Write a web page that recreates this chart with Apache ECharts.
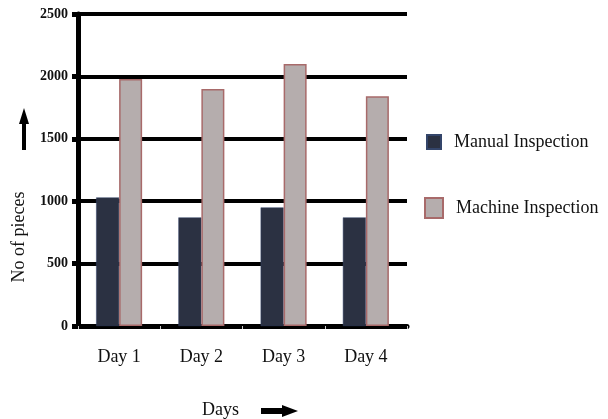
<!DOCTYPE html>
<html>
<head>
<meta charset="utf-8">
<script src="https://cdn.jsdelivr.net/npm/echarts@6/dist/echarts.min.js"></script>
<style>
  html, body { margin: 0; padding: 0; background: #fff; }
  #chart { width: 608px; height: 419px; }
</style>
</head>
<body>
<div id="chart"></div>
<script>
var days = ['Day 1', 'Day 2', 'Day 3', 'Day 4']
var manual = [1030, 870, 950, 870]
var machine = [1980, 1900, 2100, 1840]
var yTicks = [0, 500, 1000, 1500, 2000, 2500]

var serif = 'Liberation Serif, Times New Roman, serif'
var chart = echarts.init(document.getElementById('chart'))

chart.setOption({
  animation: false,
  grid: {
    left: 78,
    right: 201,
    top: 14,
    bottom: 93,
    outerBoundsMode: 'none'
  },
  legend: [
    {
      data: ['Manual Inspection'],
      icon: 'rect',
      left: 421,
      top: 128,
      itemWidth: 14,
      itemHeight: 14,
      textStyle: { fontFamily: serif, fontSize: 18, color: '#111', padding: [0, 0, 4, 8] }
    },
    {
      data: ['Machine Inspection'],
      icon: 'rect',
      left: 419,
      top: 192,
      itemWidth: 18,
      itemHeight: 20,
      textStyle: { fontFamily: serif, fontSize: 18, color: '#111', padding: [0, 0, 0, 8] }
    }
  ],
  xAxis: {
    type: 'category',
    data: days,
    name: 'Days',
    nameLocation: 'middle',
    nameGap: 75,
    nameTextStyle: { fontFamily: serif, fontSize: 18, color: '#111', padding: [0, 44, 0, 0] },
    axisLine: { lineStyle: { color: '#000', width: 5 } },
    axisTick: { show: true, length: 3, lineStyle: { color: '#ccc', width: 1 } },
    axisLabel: { fontFamily: serif, fontSize: 18, color: '#111', margin: 22 }
  },
  yAxis: {
    type: 'value',
    min: yTicks[0],
    max: yTicks[yTicks.length - 1],
    interval: 500,
    name: 'No of pieces',
    nameLocation: 'middle',
    nameGap: 50,
    nameRotate: 90,
    nameTextStyle: { fontFamily: serif, fontSize: 18, color: '#111', padding: [0, 134, 0, 0] },
    axisLine: { show: true, lineStyle: { color: '#000', width: 5 } },
    axisTick: { show: true, length: 6, lineStyle: { color: '#000', width: 5 } },
    axisLabel: {
      fontFamily: serif, fontSize: 14, fontWeight: 'bold', color: '#111', margin: 10,
      formatter: function(v) { return String(v) }
    },
    splitLine: { show: true, lineStyle: { color: '#000', width: 4 } }
  },
  series: [
    {
      name: 'Manual Inspection',
      type: 'bar',
      data: manual,
      barWidth: 23,
      barGap: '0%',
      itemStyle: { color: '#2b3142', borderColor: '#34456a', borderWidth: 0.5 }
    },
    {
      name: 'Machine Inspection',
      type: 'bar',
      data: machine,
      barWidth: 23,
      itemStyle: { color: '#b5adad', borderColor: '#a86a6a', borderWidth: 1.5 }
    }
  ],
  graphic: [
    {
      // up arrow beside the y axis name
      type: 'polygon',
      shape: { points: [[24, 108], [19, 124], [22, 124], [22, 150], [26, 150], [26, 124], [29, 124]] },
      style: { fill: '#000' }
    },
    {
      // right arrow beside "Days"
      type: 'polygon',
      shape: { points: [[298, 411], [282, 405], [282, 408], [261, 408], [261, 414], [282, 414], [282, 417]] },
      style: { fill: '#000' }
    }
  ]
})
</script>
</body>
</html>
